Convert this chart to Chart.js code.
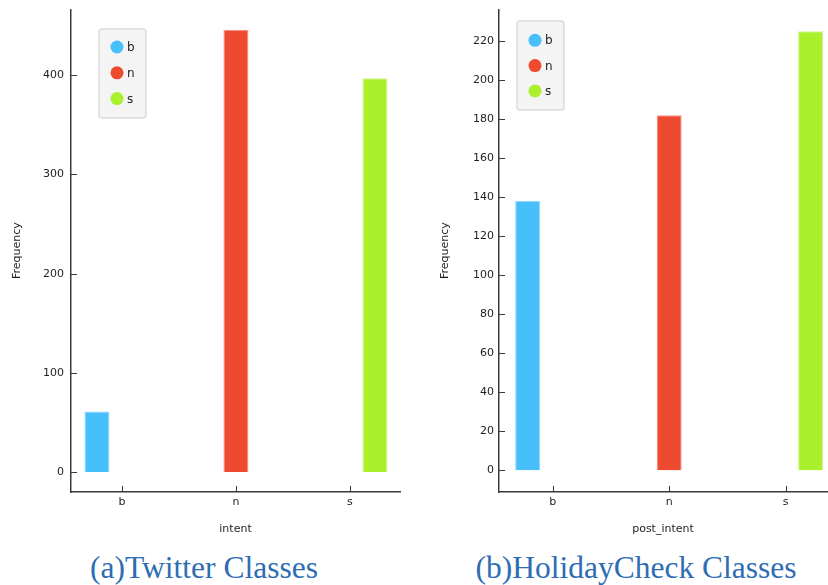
<!DOCTYPE html>
<html>
<head>
<meta charset="utf-8">
<title>Class frequencies</title>
<script src="https://cdn.jsdelivr.net/npm/chart.js@4"></script>
<style>
  html, body { margin: 0; padding: 0; background: #fff; overflow: hidden; }
  body { width: 828px; height: 585px; position: relative; }
  .panel { position: absolute; top: 0; height: 540px; width: 414px; }
  #leftPanel { left: 0; }
  #rightPanel { left: 414px; }
  .caption {
    position: absolute; top: 553px;
    font-family: 'Liberation Serif', serif; font-size: 31.5px; line-height: 30px;
    color: #2e6db4; white-space: nowrap; transform: translateX(-50%);
  }
</style>
</head>
<body>
<div class="panel" id="leftPanel"><canvas id="twitterChart" width="414" height="540"></canvas></div>
<div class="panel" id="rightPanel"><canvas id="holidayChart" width="414" height="540"></canvas></div>
<div class="caption" style="left:204px">(a)Twitter Classes</div>
<div class="caption" style="left:636px">(b)HolidayCheck Classes</div>

<script>
// data
const categories = ['b', 'n', 's'];
const twitterCounts = [61, 446, 397];
const holidayCounts = [138, 182, 225];
const twitterTicks = { min: -20.2, max: 466.6, step: 100 };
const holidayTicks = { min: -11.1, max: 236.3, step: 20 };
// x range around the three category positions 0, 1, 2
const twitterXRange = { min: -0.447, max: 2.439 };
const holidayXRange = { min: -0.461, max: 2.355 };

const barColors = ['#47bffa', '#ee4a2f', '#aaf02c'];
const barEdges = ['#8fd8fc', '#f58f7e', '#cdf688'];
const axisColor = '#3a3a3a';
const textColor = '#1e1e1e';
const fontFamily = "'DejaVu Sans', sans-serif";

// ticks drawn inside the plot, plus the little legend box in the corner
const innerTicks = {
    id: 'innerTicks',
    afterDatasetsDraw(chart) {
        const { ctx, chartArea, scales } = chart;
        ctx.save();
        ctx.strokeStyle = axisColor;
        ctx.lineWidth = 1;
        scales.y.ticks.forEach((t, i) => {
            const y = Math.round(scales.y.getPixelForTick(i)) + 0.5;
            ctx.beginPath();
            ctx.moveTo(chartArea.left, y);
            ctx.lineTo(chartArea.left + 6, y);
            ctx.stroke();
        });
        scales.x.ticks.forEach((t, i) => {
            const x = Math.round(scales.x.getPixelForTick(i)) + 0.5;
            ctx.beginPath();
            ctx.moveTo(x, chartArea.bottom);
            ctx.lineTo(x, chartArea.bottom - 6);
            ctx.stroke();
        });
        ctx.restore();
    }
};

const boxLegend = {
    id: 'boxLegend',
    afterDraw(chart, args, opts) {
        const { ctx } = chart;
        const x = opts.x, y = opts.y, w = 47, h = 89;
        ctx.save();
        ctx.fillStyle = '#f4f4f4';
        ctx.strokeStyle = '#dcdcdc';
        ctx.lineWidth = 1.5;
        ctx.beginPath();
        ctx.roundRect(x, y, w, h, 3);
        ctx.fill();
        ctx.stroke();
        ctx.font = '12px ' + fontFamily;
        ctx.textBaseline = 'middle';
        chart.data.datasets.forEach((ds, i) => {
            const cy = y + opts.first + i * opts.gap;
            ctx.fillStyle = ds.backgroundColor;
            ctx.beginPath();
            ctx.arc(x + 18, cy, 6.5, 0, Math.PI * 2);
            ctx.fill();
            ctx.fillStyle = textColor;
            ctx.fillText(ds.label, x + 28, cy + 1);
        });
        ctx.restore();
    }
};

// keep tick labels from pushing the plot area around
function noEdgePadding(s) {
    s.paddingTop = 0; s.paddingBottom = 0;
    s.paddingLeft = 0; s.paddingRight = 0;
}

function makeChart(canvasId, counts, xTitle, range, xRange, layout) {
    const datasets = categories.map((c, i) => ({
        label: c,
        data: categories.map((_, j) => ({ x: j, y: j === i ? counts[i] : null })),
        backgroundColor: barColors[i],
        borderColor: barEdges[i],
        borderWidth: 1,
        barPercentage: 1,
        categoryPercentage: layout.catPct
    }));

    return new Chart(document.getElementById(canvasId), {
        type: 'bar',
        data: { datasets },
        options: {
            responsive: false,
            animation: false,
            devicePixelRatio: 1,
            layout: { padding: layout.padding },
            plugins: {
                legend: { display: false },
                tooltip: { enabled: false },
                boxLegend: layout.legend
            },
            scales: {
                x: {
                    type: 'linear',
                    offset: false,
                    min: xRange.min,
                    max: xRange.max,
                    grid: { display: false, drawTicks: false, offset: false },
                    border: { display: true, color: axisColor, width: 1.5 },
                    ticks: {
                        stepSize: 1, includeBounds: false, maxRotation: 0,
                        callback: (v) => categories[v],
                        color: textColor, padding: 4, font: { family: fontFamily, size: 11 }
                    },
                    title: {
                        display: true, text: xTitle, color: textColor,
                        padding: { top: 0, bottom: 4 },
                        font: { family: fontFamily, size: 11 }
                    },
                    afterFit: (s) => { s.height = layout.xHeight; noEdgePadding(s); }
                },
                y: {
                    min: range.min,
                    max: range.max,
                    grid: { display: false, drawTicks: false },
                    border: { display: true, color: axisColor, width: 1.5 },
                    ticks: {
                        stepSize: range.step, includeBounds: false,
                        color: textColor, padding: layout.tickPad,
                        font: { family: fontFamily, size: 11 }
                    },
                    title: {
                        display: true, text: 'Frequency', color: textColor,
                        padding: { top: layout.yTitlePad, bottom: 0 },
                        font: { family: fontFamily, size: 11 }
                    },
                    afterFit: (s) => { s.width = layout.yWidth; noEdgePadding(s); }
                }
            }
        },
        plugins: [innerTicks, boxLegend]
    });
}

makeChart('twitterChart', twitterCounts, 'intent', twitterTicks, twitterXRange, {
    padding: { top: 9.3, right: 14, left: 0, bottom: 0 },
    yWidth: 71, xHeight: 48, yTitlePad: 11, tickPad: 7, catPct: 0.658,
    legend: { x: 99, y: 29, first: 18, gap: 25.8 }
});

makeChart('holidayChart', holidayCounts, 'post_intent', holidayTicks, holidayXRange, {
    padding: { top: 9.3, right: 1, left: 0, bottom: 0 },
    yWidth: 85, xHeight: 48, yTitlePad: 25, tickPad: 5, catPct: 0.644,
    legend: { x: 103, y: 21, first: 19.3, gap: 25.3 }
});
</script>
</body>
</html>
